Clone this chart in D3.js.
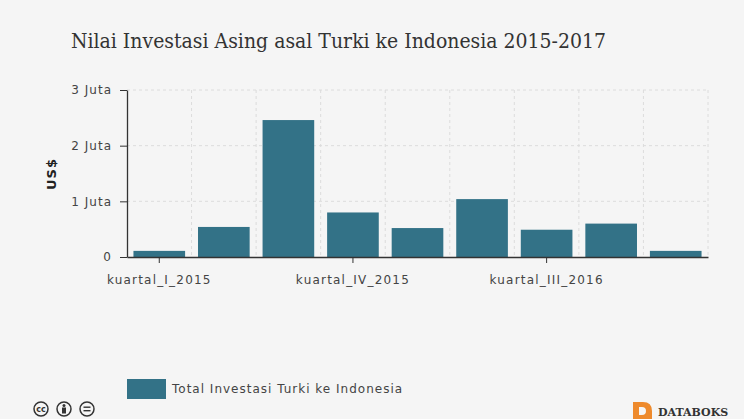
<!DOCTYPE html>
<html>
<head>
<meta charset="utf-8">
<script src="https://cdn.jsdelivr.net/npm/d3@7"></script>
<style>
    html, body { margin: 0; padding: 0; background: #f5f5f5; }
    svg { display: block; }
    text { font-family: "DejaVu Sans", sans-serif; fill: #444; }
    .title { font-family: "DejaVu Serif", serif; fill: #333; }
</style>
</head>
<body>
<div id="chart"></div>
<script>
const categories = ['kuartal_I_2015', 'kuartal_II_2015', 'kuartal_III_2015', 'kuartal_IV_2015',
    'kuartal_I_2016', 'kuartal_II_2016', 'kuartal_III_2016', 'kuartal_IV_2016', 'kuartal_I_2017'];
const values = [110000, 540000, 2460000, 800000, 520000, 1040000, 490000, 600000, 110000];
const yTicks = [0, 1000000, 2000000, 3000000];
const xLabels = ['kuartal_I_2015', 'kuartal_IV_2015', 'kuartal_III_2016'];
const seriesName = 'Total Investasi Turki ke Indonesia';
const titleText = 'Nilai Investasi Asing asal Turki ke Indonesia 2015-2017';

const width = 744, height = 419;
const plotLeft = 127, plotRight = 708, plotTop = 90, plotBottom = 257;
const barColor = '#337287';

const svg = d3.select('#chart').append('svg')
    .attr('width', width)
    .attr('height', height);

svg.append('rect')
    .attr('width', width)
    .attr('height', height)
    .attr('fill', '#f5f5f5');

svg.append('text')
    .attr('class', 'title')
    .attr('x', 71)
    .attr('y', 48)
    .attr('textLength', 535)
    .attr('lengthAdjust', 'spacingAndGlyphs')
    .style('font-size', '21px')
    .text(titleText);

let x = d3.scaleBand().domain(categories).range([plotLeft, plotRight]).paddingInner(0.2).paddingOuter(0.1);
let y = d3.scaleLinear().domain([0, 3000000]).range([plotBottom, plotTop]);

// grid, one line per category edge
let step = x.step();
svg.append('g').selectAll('line')
    .data(categories)
    .join('line')
    .attr('x1', d => x(d) - x.paddingInner() * step / 2 + step)
    .attr('x2', d => x(d) - x.paddingInner() * step / 2 + step)
    .attr('y1', plotTop)
    .attr('y2', plotBottom)
    .attr('stroke', '#dcdcdc')
    .attr('stroke-dasharray', '3,3');

svg.append('g').selectAll('line')
    .data(yTicks.slice(1))
    .join('line')
    .attr('x1', plotLeft)
    .attr('x2', plotRight)
    .attr('y1', d => y(d))
    .attr('y2', d => y(d))
    .attr('stroke', '#dcdcdc')
    .attr('stroke-dasharray', '3,3');

svg.append('g').selectAll('rect')
    .data(values)
    .join('rect')
    .attr('x', (d, i) => x(categories[i]))
    .attr('y', d => y(d))
    .attr('width', x.bandwidth())
    .attr('height', d => y(0) - y(d))
    .attr('fill', barColor);

let yAxis = d3.axisLeft(y)
    .tickValues(yTicks)
    .tickSize(7)
    .tickSizeOuter(0)
    .tickPadding(8)
    .tickFormat(d => d === 0 ? '0' : (d / 1000000) + ' Juta');
let yG = svg.append('g')
    .attr('transform', `translate(${plotLeft},0)`)
    .call(yAxis);

let xAxis = d3.axisBottom(x)
    .tickValues(xLabels)
    .tickSize(6)
    .tickSizeOuter(0)
    .tickPadding(12);
let xG = svg.append('g')
    .attr('transform', `translate(0,${plotBottom})`)
    .call(xAxis);

[yG, xG].forEach(g => {
    g.selectAll('text')
        .style('font-size', '12px')
        .style('letter-spacing', g === xG ? '1.2px' : '1px')
        .style('fill', '#444');
    g.selectAll('line').attr('stroke', '#333');
    g.select('.domain').attr('stroke', '#333').attr('stroke-width', 1.3);
});

svg.append('text')
    .attr('transform', 'translate(56,174) rotate(-90)')
    .attr('text-anchor', 'middle')
    .style('font-size', '13px')
    .style('font-weight', 'bold')
    .style('letter-spacing', '1px')
    .style('fill', '#222')
    .text('US$');

// legend
svg.append('rect')
    .attr('x', 127)
    .attr('y', 379)
    .attr('width', 39)
    .attr('height', 20)
    .attr('fill', barColor);
svg.append('text')
    .attr('x', 172)
    .attr('y', 393)
    .style('font-size', '12px')
    .style('letter-spacing', '1px')
    .text(seriesName);

// cc badges
const badges = [41, 64, 87];
svg.append('g').selectAll('circle')
    .data(badges)
    .join('circle')
    .attr('cx', d => d)
    .attr('cy', 409)
    .attr('r', 7)
    .attr('fill', 'none')
    .attr('stroke', '#333')
    .attr('stroke-width', 1.5);
svg.append('text')
    .attr('x', 41)
    .attr('y', 412)
    .attr('text-anchor', 'middle')
    .style('font-size', '8px')
    .style('font-weight', 'bold')
    .style('fill', '#333')
    .text('cc');
svg.append('circle').attr('cx', 64).attr('cy', 405.5).attr('r', 1.5).attr('fill', '#333');
svg.append('rect').attr('x', 62).attr('y', 407.5).attr('width', 4).attr('height', 6).attr('fill', '#333');
svg.append('rect').attr('x', 83.5).attr('y', 406.5).attr('width', 7).attr('height', 1.4).attr('fill', '#333');
svg.append('rect').attr('x', 83.5).attr('y', 410).attr('width', 7).attr('height', 1.4).attr('fill', '#333');

// logo
svg.append('path')
    .attr('d', 'M633,402 H643 Q652,402 652,411 V419 H633 Z M639,407 V415 H642 Q646,415 646,411 Q646,407 642,407 Z')
    .attr('fill', '#ee8a2c')
    .attr('fill-rule', 'evenodd');
svg.append('text')
    .attr('x', 658)
    .attr('y', 416)
    .style('font-family', '"DejaVu Serif", serif')
    .style('font-size', '11px')
    .style('font-weight', 'bold')
    .style('fill', '#333')
    .text('DATABOKS');
</script>
</body>
</html>
